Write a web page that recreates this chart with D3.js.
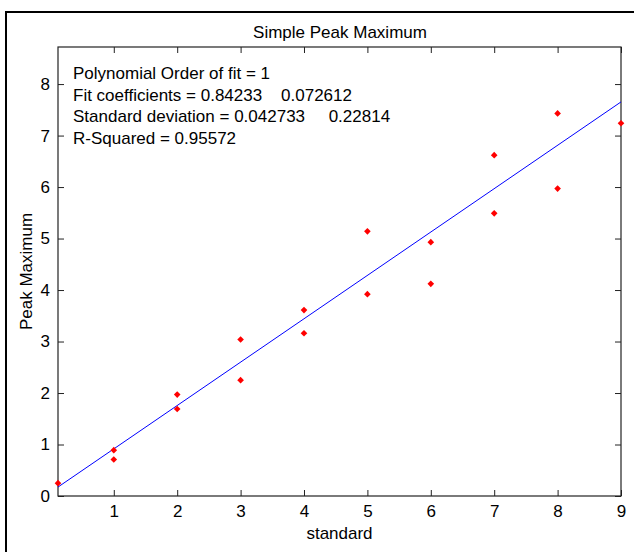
<!DOCTYPE html>
<html>
<head>
<meta charset="utf-8">
<script src="https://cdn.jsdelivr.net/npm/d3@7"></script>
<style>
  html, body { margin: 0; padding: 0; background: #fff; }
  svg { display: block; }
  text { font-family: "Liberation Sans", Arial, sans-serif; fill: #000; white-space: pre; }
</style>
</head>
<body>
<svg id="chart" width="634" height="552"></svg>
<script>
// ---- data ----
const xValues = [0.12, 1, 1, 2, 2, 3, 3, 4, 4, 5, 5, 6, 6, 7, 7, 8, 8, 9];
const yValues = [0.25, 0.89, 0.71, 1.97, 1.69, 3.04, 2.25, 3.61, 3.16, 5.14, 3.92, 4.93, 4.12, 6.62, 5.49, 7.43, 5.97, 7.24];
const fitCoefficients = [0.84233, 0.072612]; // slope, intercept
const xTicks = [1, 2, 3, 4, 5, 6, 7, 8, 9];
const yTicks = [0, 1, 2, 3, 4, 5, 6, 7, 8];
const xDomain = [0.12, 9];
const yDomain = [0, 8.72];
const titleText = "Simple Peak Maximum";
const xLabel = "standard";
const yLabel = "Peak Maximum";
const annotationLines = [
  "Polynomial Order of fit = 1",
  "Fit coefficients = 0.84233    0.072612",
  "Standard deviation = 0.042733     0.22814",
  "R-Squared = 0.95572"
];

// ---- layout ----
const svg = d3.select("#chart");
const L = 58, R = 621, T = 47, B = 496;
const FS = 17;

// figure frame
svg.append("rect").attr("x", 6).attr("y", 12).attr("width", 700).attr("height", 700)
  .attr("fill", "#fff").attr("stroke", "#000").attr("stroke-width", 2);

const x = d3.scaleLinear().domain(xDomain).range([L, R]);
const y = d3.scaleLinear().domain(yDomain).range([B, T]);

const axisColor = "#222";
function styleAxis(g, showText) {
  g.select(".domain").remove();
  g.selectAll(".tick line").attr("stroke", axisColor);
  g.selectAll(".tick text").attr("font-size", FS).attr("font-family", "'Liberation Sans', Arial, sans-serif").attr("fill", "#000");
  if (!showText) g.selectAll(".tick text").remove();
}

svg.append("g").attr("transform", `translate(0,${B})`)
  .call(d3.axisBottom(x).tickValues(xTicks).tickFormat(d3.format("d")).tickSizeInner(-6).tickSizeOuter(0).tickPadding(9))
  .call(g => styleAxis(g, true));
svg.append("g").attr("transform", `translate(0,${T})`)
  .call(d3.axisTop(x).tickValues(xTicks).tickSizeInner(-6).tickSizeOuter(0))
  .call(g => styleAxis(g, false));
svg.append("g").attr("transform", `translate(${L},0)`)
  .call(d3.axisLeft(y).tickValues(yTicks).tickFormat(d3.format("d")).tickSizeInner(-6).tickSizeOuter(0).tickPadding(8))
  .call(g => styleAxis(g, true));
svg.append("g").attr("transform", `translate(${R},0)`)
  .call(d3.axisRight(y).tickValues(yTicks).tickSizeInner(-6).tickSizeOuter(0))
  .call(g => styleAxis(g, false));

// axes box
svg.append("rect").attr("x", L).attr("y", T).attr("width", R - L).attr("height", B - T)
  .attr("fill", "none").attr("stroke", axisColor).attr("stroke-width", 1.2);

// fit line
const fit = v => fitCoefficients[0] * v + fitCoefficients[1];
const lineData = [xDomain[0], xDomain[1]];
svg.append("path")
  .datum(lineData)
  .attr("d", d3.line().x(d => x(d)).y(d => y(fit(d))))
  .attr("fill", "none").attr("stroke", "#0000ff").attr("stroke-width", 1);

// points
svg.append("g").selectAll("path")
  .data(xValues.map((v, i) => [v, yValues[i]]))
  .join("path")
  .attr("transform", d => `translate(${x(d[0])},${y(d[1])}) rotate(45)`)
  .attr("d", d3.symbol(d3.symbolSquare, 22))
  .attr("fill", "#ff0000");

// title and labels
svg.append("text").attr("x", (L + R) / 2 + 0.5).attr("y", 38).attr("text-anchor", "middle")
  .attr("font-size", FS).text(titleText);
svg.append("text").attr("x", (L + R) / 2).attr("y", 539).attr("text-anchor", "middle")
  .attr("font-size", FS).text(xLabel);
svg.append("text").attr("transform", `translate(32,${(T + B) / 2}) rotate(-90)`).attr("text-anchor", "middle")
  .attr("font-size", FS).text(yLabel);

// annotation
svg.append("g").selectAll("text")
  .data(annotationLines)
  .join("text")
  .attr("x", 73)
  .attr("y", (d, i) => 79 + i * 21.7)
  .attr("font-size", FS)
  .text(d => d);
</script>
</body>
</html>
